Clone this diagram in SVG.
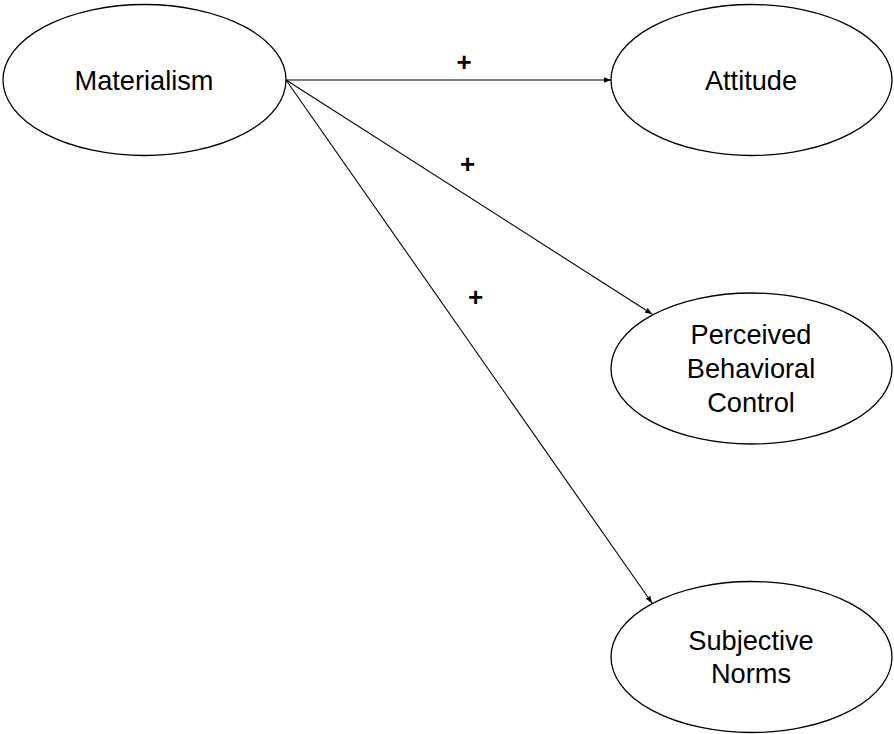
<svg xmlns="http://www.w3.org/2000/svg" width="894" height="734" viewBox="0 0 894 734">
<style>
.node ellipse{fill:#fff;stroke:#000;stroke-width:1.3}
.lbl{font-family:"Liberation Sans",Arial,sans-serif;font-size:27.2px;fill:#000;text-anchor:middle}
.conn line{stroke:#000;stroke-width:1.1}
.plus{font-family:"Liberation Sans",Arial,sans-serif;font-size:26px;font-weight:bold;fill:#000;text-anchor:middle}
</style>
<defs>
<marker id="arr" viewBox="0 0 10 10" refX="10" refY="5" markerWidth="7" markerHeight="7" markerUnits="userSpaceOnUse" orient="auto">
<path d="M0,1 L10,5 L0,9 Z" fill="#000"/>
</marker>
</defs>
<rect width="894" height="734" fill="#fff"/>
<g id="n-materialism" class="node">
<ellipse cx="144.5" cy="80" rx="141.5" ry="75.5"/>
<text class="lbl" x="144" y="90">Materialism</text>
</g>
<g id="n-attitude" class="node">
<ellipse cx="751.5" cy="80" rx="140.5" ry="75.5"/>
<text class="lbl" x="751" y="90">Attitude</text>
</g>
<g id="n-pbc" class="node">
<ellipse cx="751.5" cy="368.5" rx="140.5" ry="75.5"/>
<text class="lbl" x="751" y="344">Perceived</text>
<text class="lbl" x="751" y="378">Behavioral</text>
<text class="lbl" x="751" y="412">Control</text>
</g>
<g id="n-sn" class="node">
<ellipse cx="751.5" cy="657" rx="140.5" ry="75.5"/>
<text class="lbl" x="751" y="650">Subjective</text>
<text class="lbl" x="751" y="683">Norms</text>
</g>
<g id="connectors" class="conn">
<line x1="286" y1="80" x2="611" y2="80" marker-end="url(#arr)"/>
<line x1="286" y1="80" x2="652" y2="314" marker-end="url(#arr)"/>
<line x1="286" y1="80" x2="652" y2="603" marker-end="url(#arr)"/>
<text class="plus" x="464" y="71">+</text>
<text class="plus" x="467.5" y="173">+</text>
<text class="plus" x="475.5" y="305.5">+</text>
</g>
</svg>
